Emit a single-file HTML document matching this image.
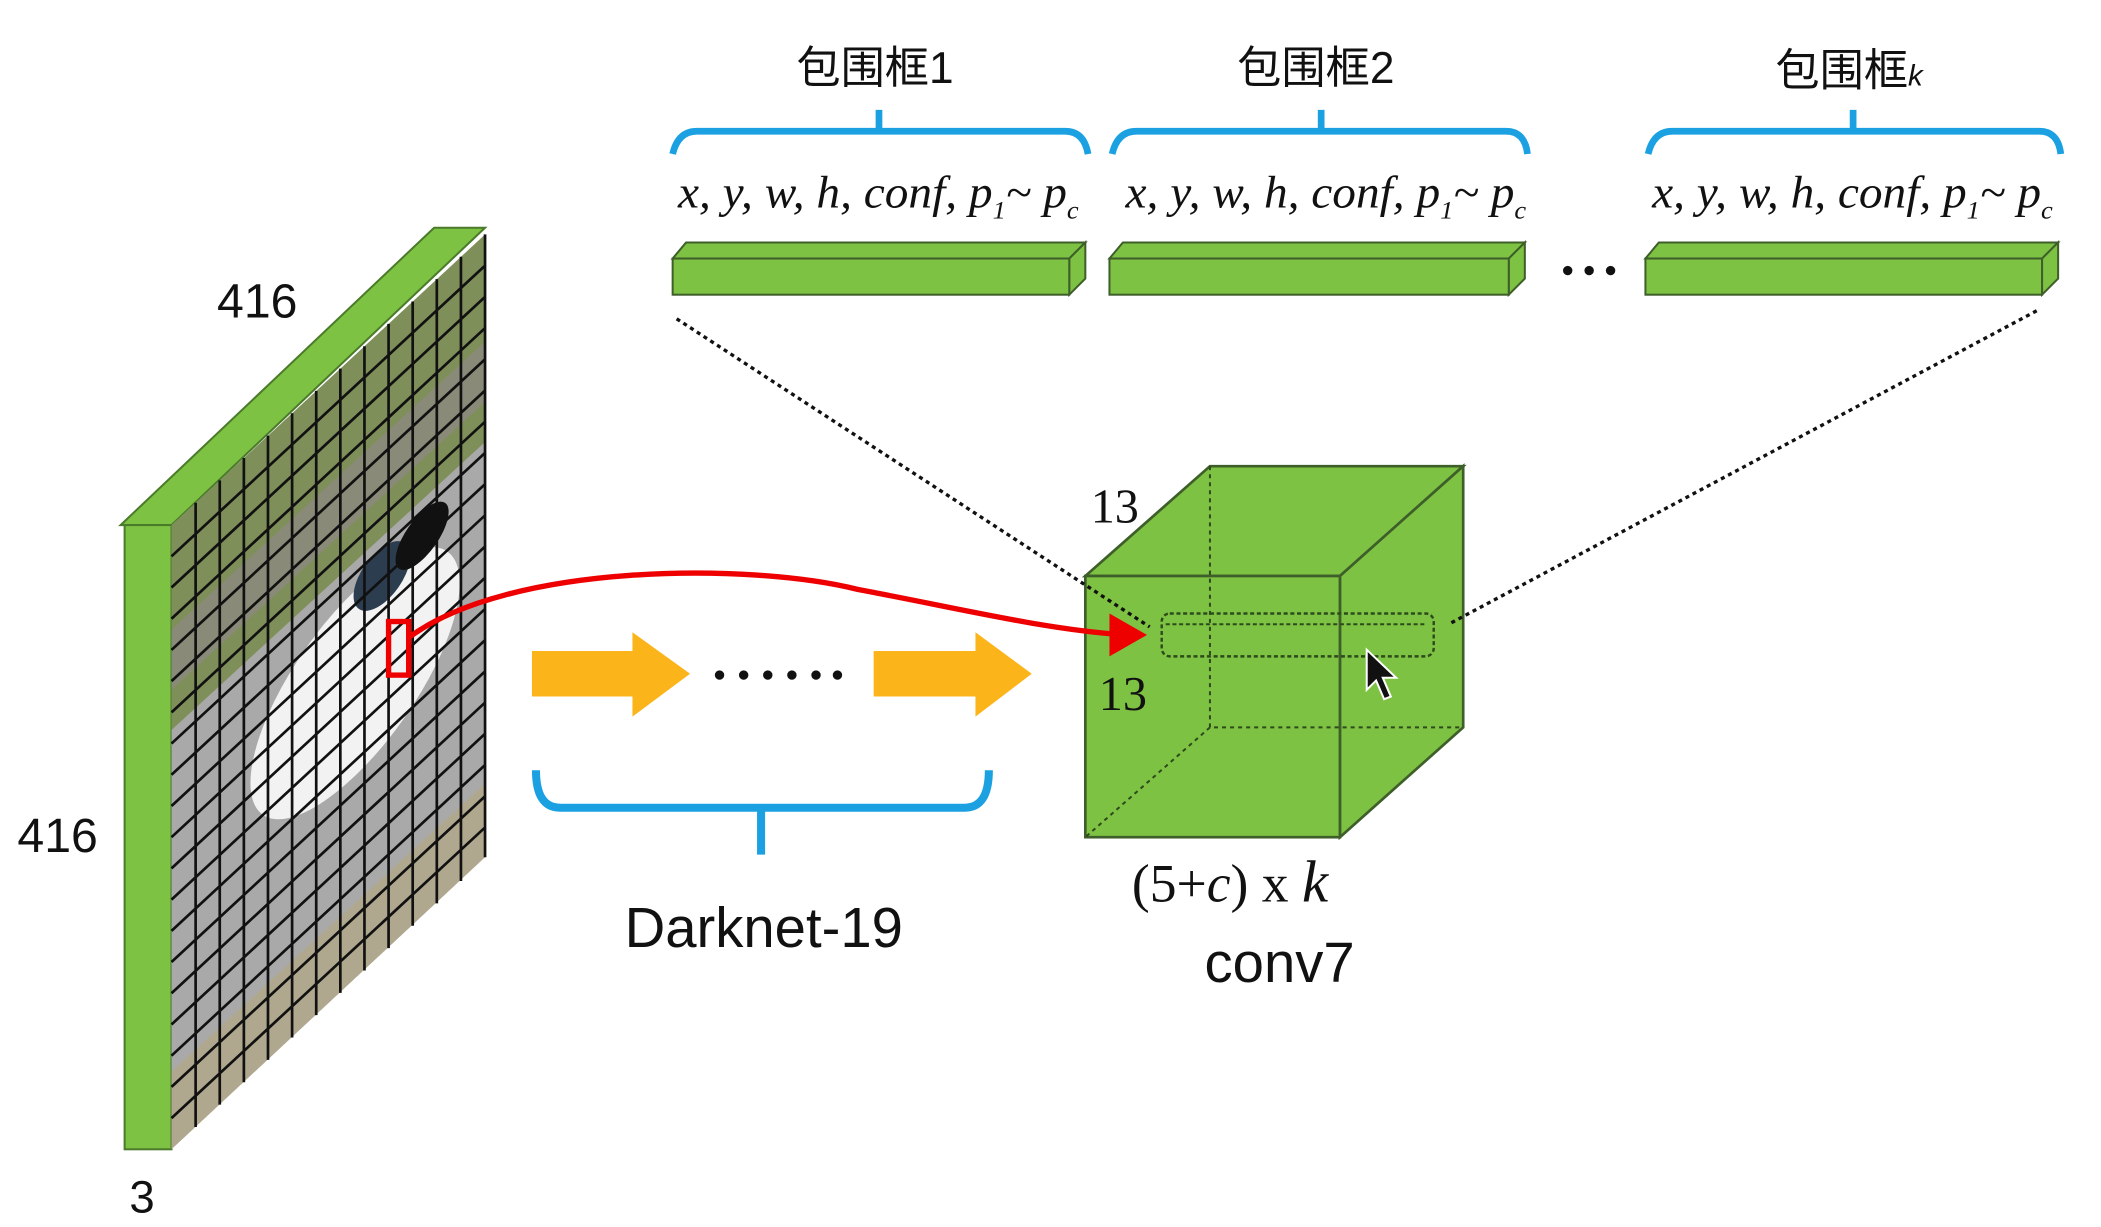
<!DOCTYPE html>
<html><head><meta charset="utf-8"><style>
html,body{margin:0;padding:0;background:#fff;width:2101px;height:1227px;overflow:hidden}
svg{display:block}
.cn{font-family:"Liberation Sans","Noto Sans CJK SC",sans-serif;font-size:33px;fill:#111}
.it{font-family:"Liberation Serif",serif;font-style:italic;font-size:34px;fill:#111}
</style></head><body>
<svg width="2101" height="1227" viewBox="0 0 1568 916" preserveAspectRatio="none">
<defs>
<clipPath id="face"><polygon points="128,392 362,175 362,640 128,858"/></clipPath>
<marker id="ah" markerWidth="10" markerHeight="10" refX="8" refY="5" orient="auto" markerUnits="userSpaceOnUse"><polygon points="0,0 10,5 0,10" fill="#e00"/></marker>
</defs>
<polygon points="90,392 128,392 362,170 324,170" fill="#7dc242" stroke="#4a7a2a" stroke-width="1.5"/>
<rect x="93" y="392" width="35" height="466" fill="#7dc242" stroke="#4a7a2a" stroke-width="1.5"/>
<g clip-path="url(#face)">
<polygon points="128,392 362,175 362,640 128,858" fill="#a9a9a9"/>
<polygon points="128,392 362,175 362,330 128,545" fill="#7f8f5a"/>
<polygon points="128,470 362,255 362,300 128,515" fill="#8a8a78"/>
<ellipse cx="265" cy="510" rx="45" ry="120" transform="rotate(35 265 510)" fill="#f2f2f2"/>
<ellipse cx="285" cy="430" rx="15" ry="30" transform="rotate(35 285 430)" fill="#2d3d50"/>
<ellipse cx="315" cy="400" rx="12" ry="30" transform="rotate(35 315 400)" fill="#111"/>
<polygon points="128,800 362,585 362,640 128,858" fill="#b0a88e"/>
</g>
<path fill="none" stroke="#111" stroke-width="2" d="M146,375.3V841.3M164,358.6V824.6M182,341.9V807.9M200,325.2V791.2M218,308.5V774.5M236,291.8V757.8M254,275.2V741.2M272,258.5V724.5M290,241.8V707.8M308,225.1V691.1M326,208.4V674.4M344,191.7V657.7M362,175V640
M128,415.3L362,198.3M128,438.6L362,221.6M128,461.9L362,244.9M128,485.2L362,268.2M128,508.5L362,291.5M128,531.8L362,314.8M128,555.1L362,338.1M128,578.4L362,361.4M128,601.7L362,384.7M128,625L362,408M128,648.3L362,431.3M128,671.6L362,454.6M128,694.9L362,477.9M128,718.2L362,501.2M128,741.5L362,524.5M128,764.8L362,547.8M128,788.1L362,571.1M128,811.4L362,594.4M128,834.7L362,617.7"/>
<rect x="290" y="464" width="15" height="40" fill="none" stroke="#e00" stroke-width="4"/>
<text x="192" y="237" text-anchor="middle" font-family="Liberation Sans,sans-serif" font-size="36" fill="#111">416</text>
<text x="43" y="636" text-anchor="middle" font-family="Liberation Sans,sans-serif" font-size="36" fill="#111">416</text>
<text x="106" y="905" text-anchor="middle" font-family="Liberation Sans,sans-serif" font-size="34" fill="#111">3</text>
<polygon points="397,486 472,486 472,472 515,503 472,535 472,520 397,520" fill="#fbb41a"/>
<polygon points="652,486 728,486 728,472 770,503 728,535 728,520 652,520" fill="#fbb41a"/>
<g fill="#111"><circle cx="537" cy="504" r="3.5"/><circle cx="555" cy="504" r="3.5"/><circle cx="573" cy="504" r="3.5"/><circle cx="591" cy="504" r="3.5"/><circle cx="609" cy="504" r="3.5"/><circle cx="625" cy="504" r="3.5"/></g>
<path d="M400,575 Q400,603 418,603 H720 Q738,603 738,575 M568,603 V638" fill="none" stroke="#1ba1e2" stroke-width="6"/>
<text x="570" y="707" text-anchor="middle" font-family="Liberation Sans,sans-serif" font-size="42" fill="#111">Darknet-19</text>
<polygon points="810,430 903,348 1092,348 1000,430" fill="#7dc242" stroke="#3e5e2a" stroke-width="2"/>
<polygon points="1000,430 1092,348 1092,543 1000,625" fill="#7dc242" stroke="#3e5e2a" stroke-width="2"/>
<rect x="810" y="430" width="190" height="195" fill="#7dc242" stroke="#3e5e2a" stroke-width="2"/>
<path d="M903,348V543H1092M903,543L810,625" fill="none" stroke="#2d4a1c" stroke-width="1.5" stroke-dasharray="3,3"/>
<rect x="867" y="458" width="203" height="32" rx="6" fill="none" stroke="#2d4a1c" stroke-width="1.8" stroke-dasharray="3,2"/>
<line x1="870" y1="466" x2="1065" y2="466" stroke="#2d4a1c" stroke-width="1.5" stroke-dasharray="3,2"/>
<text x="832" y="390" text-anchor="middle" font-family="Liberation Serif,serif" font-size="36" fill="#111">13</text>
<text x="838" y="530" text-anchor="middle" font-family="Liberation Serif,serif" font-size="36" fill="#111">13</text>
<text x="918" y="673" text-anchor="middle" font-family="Liberation Serif,serif" font-size="40" fill="#111">(5+<tspan font-style="italic">c</tspan>) x <tspan font-style="italic" font-size="44">k</tspan></text>
<text x="955" y="733" text-anchor="middle" font-family="Liberation Sans,sans-serif" font-size="42" fill="#111">conv7</text>
<line x1="505" y1="238" x2="858" y2="468" stroke="#111" stroke-width="2.5" stroke-dasharray="3,3"/>
<line x1="1520" y1="232" x2="1083" y2="465" stroke="#111" stroke-width="2.5" stroke-dasharray="3,3"/>
<path d="M305,476 C380,420 560,420 640,440 C720,455 780,470 840,474" fill="none" stroke="#e00" stroke-width="4" marker-end="url(#ah)"/>
<polygon points="828,458 856,474 828,490" fill="#e00"/>
<polygon points="1020,485 1020,515 1027,508 1033,522 1038,520 1032,506 1042,506" fill="#111" stroke="#fff" stroke-width="1.5"/>
<g fill="#7dc242" stroke="#3e5e2a" stroke-width="1.5">
<polygon points="502,193 512,181 810,181 798,193"/><polygon points="798,193 810,181 810,208 798,220"/><rect x="502" y="193" width="296" height="27"/>
<polygon points="828,193 838,181 1138,181 1126,193"/><polygon points="1126,193 1138,181 1138,208 1126,220"/><rect x="828" y="193" width="298" height="27"/>
<polygon points="1228,193 1238,181 1536,181 1524,193"/><polygon points="1524,193 1536,181 1536,208 1524,220"/><rect x="1228" y="193" width="296" height="27"/>
</g>
<g fill="#111"><circle cx="1170" cy="202" r="3.5"/><circle cx="1186" cy="202" r="3.5"/><circle cx="1202" cy="202" r="3.5"/></g>
<g class="it">
<text x="506" y="155" textLength="299" lengthAdjust="spacingAndGlyphs">x, y, w, h, conf, p<tspan font-size="19" dy="8">1</tspan><tspan dy="-8">~ p</tspan><tspan font-size="19" dy="8">c</tspan></text>
<text x="840" y="155" textLength="299" lengthAdjust="spacingAndGlyphs">x, y, w, h, conf, p<tspan font-size="19" dy="8">1</tspan><tspan dy="-8">~ p</tspan><tspan font-size="19" dy="8">c</tspan></text>
<text x="1233" y="155" textLength="299" lengthAdjust="spacingAndGlyphs">x, y, w, h, conf, p<tspan font-size="19" dy="8">1</tspan><tspan dy="-8">~ p</tspan><tspan font-size="19" dy="8">c</tspan></text>
</g>
<g fill="none" stroke="#1ba1e2" stroke-width="5">
<path d="M502,115 Q506,98 520,98 H795 Q809,98 812,115 M656,98 V82"/>
<path d="M830,115 Q834,98 848,98 H1124 Q1138,98 1140,115 M986,98 V82"/>
<path d="M1230,115 Q1234,98 1248,98 H1522 Q1536,98 1538,115 M1383,98 V82"/>
</g>
<text class="cn" x="653" y="62" text-anchor="middle">包围框1</text>
<text class="cn" x="982" y="62" text-anchor="middle">包围框2</text>
<text class="cn" x="1380" y="64" text-anchor="middle">包围框<tspan font-style="italic" font-size="22">k</tspan></text>
</svg>
</body></html>
